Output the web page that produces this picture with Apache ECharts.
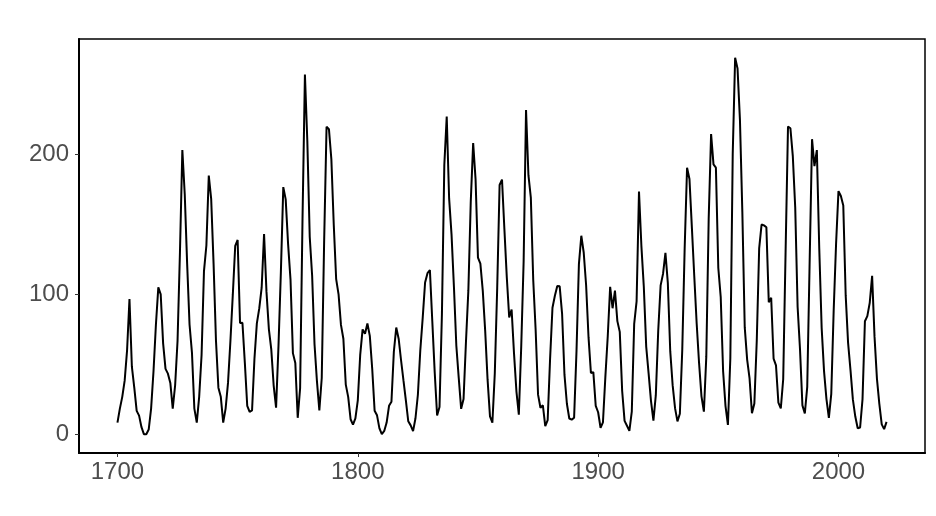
<!DOCTYPE html>
<html><head><meta charset="utf-8">
<script src="https://cdn.jsdelivr.net/npm/echarts@6/dist/echarts.min.js"></script>
<style>html,body{margin:0;padding:0;background:#fff}#c{width:936px;height:516px}</style>
</head><body><div id="c"></div>
<script>
const startYear = 1700;
const sunspots = [
8.3,18.3,26.7,38.3,60.0,96.7,48.3,33.3,16.7,13.3,
5.0,0.0,0.0,3.3,18.3,45.0,78.3,105.0,100.0,65.0,
46.7,43.3,36.7,18.3,35.0,66.7,130.0,203.3,171.7,121.7,
78.3,58.3,18.3,8.3,26.7,56.7,116.7,135.0,185.0,168.3,
121.7,66.7,33.3,26.7,8.3,18.3,36.7,66.7,100.0,134.8,
139.0,79.5,79.7,51.2,20.3,16.0,17.0,54.0,79.3,90.0,
104.8,143.2,102.0,75.2,60.7,34.8,19.0,63.0,116.3,176.8,
168.0,136.0,110.8,58.0,51.0,11.7,33.0,154.2,257.3,209.8,
141.3,113.5,64.2,38.0,17.0,40.2,138.2,220.0,218.2,196.8,
149.8,111.0,100.0,78.2,68.3,35.5,26.7,10.7,6.8,11.3,
24.2,56.7,75.0,71.8,79.2,70.3,46.8,16.8,13.5,4.2,
0.0,2.3,8.3,20.3,23.2,59.0,76.3,68.3,52.9,38.5,
24.2,9.2,6.3,2.2,11.4,28.2,59.9,83.0,108.5,115.2,
117.4,80.8,44.3,13.4,19.5,85.8,192.7,227.3,168.7,143.0,
105.5,63.3,40.3,18.1,25.1,65.8,102.7,166.3,208.3,182.5,
126.3,122.0,102.7,74.1,39.0,12.7,8.2,43.4,104.4,178.3,
182.2,146.6,112.1,83.5,89.2,57.8,30.7,13.9,62.8,123.6,
232.0,185.3,169.2,110.1,74.5,28.3,18.9,20.7,5.7,10.0,
53.7,90.5,99.0,106.1,105.8,86.3,42.4,21.8,11.2,10.4,
11.8,59.5,121.7,142.0,130.0,106.6,69.4,43.8,44.4,20.2,
15.7,4.6,8.5,40.8,70.1,105.5,90.1,102.8,80.9,73.2,
30.9,9.5,6.0,2.4,16.1,79.0,95.0,173.6,134.6,105.7,
62.7,43.5,23.7,9.7,27.9,74.0,106.5,114.7,129.7,108.2,
59.4,35.1,18.6,9.2,14.6,60.2,132.8,190.6,182.6,148.0,
113.0,79.2,50.8,27.1,16.1,55.3,154.3,214.7,193.0,190.7,
118.9,98.3,45.0,20.1,6.6,54.2,200.7,269.3,261.7,225.1,
159.0,76.4,53.4,39.9,15.0,22.0,66.8,132.9,150.0,149.4,
148.0,94.4,97.6,54.1,49.2,22.5,18.4,39.3,131.0,220.1,
218.9,198.9,162.4,91.0,60.5,20.6,14.8,33.9,123.0,211.1,
191.8,203.3,133.0,76.1,44.9,25.1,11.6,28.9,88.3,136.3,
173.9,170.4,163.6,99.3,65.3,45.8,24.7,12.6,4.2,4.8,
24.9,80.8,84.5,94.0,113.3,69.8,39.8,21.7,7.0,3.6,
8.8
];
const xTicks = [1700, 1800, 1900, 2000];
const yTicks = [0, 100, 200];

const years = sunspots.map((v, i) => startYear + i);
const pts = years.map((y, i) => [y, sunspots[i]]);
const x0 = years[0], x1 = years[years.length - 1];
const ymin = Math.min(...sunspots), ymax = Math.max(...sunspots);
const xpad = (x1 - x0) * 0.05, ypad = (ymax - ymin) * 0.05;

const chart = echarts.init(document.getElementById('c'), null, {renderer: 'canvas'});
const labelStyle = {color: '#4d4d4d', fontSize: 24, fontFamily: 'Liberation Sans, Arial, sans-serif', formatter: v => String(Math.round(v))};
chart.setOption({
  animation: false,
  backgroundColor: '#fff',
  grid: {left: 79, right: 11, top: 39, bottom: 63, show: true, borderColor: '#000', borderWidth: 1.5, backgroundColor: 'transparent'},
  xAxis: {
    type: 'value', min: x0 - xpad, max: x1 + xpad,
    axisLine: {show: true, onZero: false, lineStyle: {color: '#000', width: 2}},
    axisTick: {show: true, customValues: xTicks, length: 4, lineStyle: {color: '#333', width: 1}},
    axisLabel: Object.assign({customValues: xTicks, margin: 7}, labelStyle),
    splitLine: {show: false}
  },
  yAxis: {
    type: 'value', min: ymin - ypad, max: ymax + ypad,
    axisLine: {show: true, onZero: false, lineStyle: {color: '#000', width: 2}},
    axisTick: {show: true, customValues: yTicks, length: 4, lineStyle: {color: '#333', width: 1}},
    axisLabel: Object.assign({customValues: yTicks, margin: 10}, labelStyle),
    splitLine: {show: false}
  },
  series: [{
    type: 'line', data: pts, showSymbol: false, symbol: 'none',
    lineStyle: {color: '#000', width: 2}, z: 3
  }]
});
</script></body></html>
